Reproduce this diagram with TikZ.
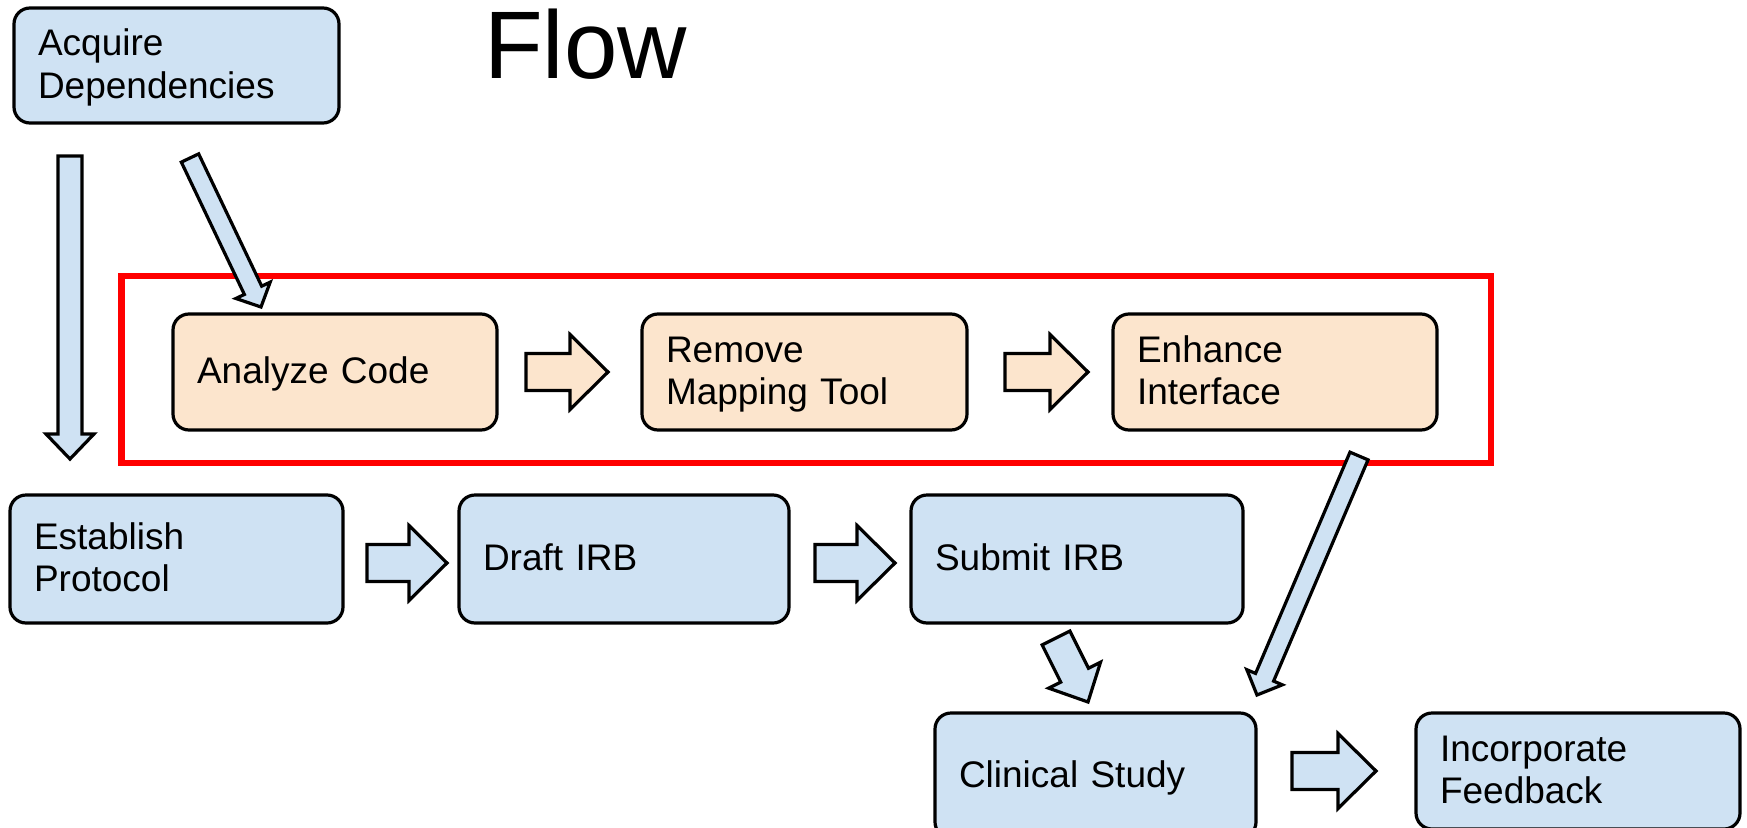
\documentclass[tikz,border=0pt]{standalone}
\usepackage{fontspec}
\setmainfont{Liberation Sans}
\usetikzlibrary{calc}
\definecolor{boxblue}{HTML}{CFE2F3}
\definecolor{boxorange}{HTML}{FCE5CD}
\definecolor{framered}{HTML}{FF0000}
\newcommand\lnstrut{\rule[-9pt]{0pt}{41pt}}
\tikzset{
  stepbox/.style={draw=black, line width=3.2pt, rounded corners=16pt, align=left,
    inner xsep=24pt, inner ysep=0pt, font=\fontsize{37}{42.5}\selectfont},
  bluebox/.style={stepbox, fill=boxblue},
  orangebox/.style={stepbox, fill=boxorange},
  bluearrow/.style={draw=black, line width=3.2pt, fill=boxblue, line join=miter},
  orangearrow/.style={draw=black, line width=3.2pt, fill=boxorange, line join=miter},
  redframe/.style={draw=framered, line width=6.5pt, line join=miter}
}
\newcommand\blockarrow[6]{%
  \coordinate (bah) at ($(#3)!#6!(#2)$);
  \draw[#1] ($(#2)!#4!90:(#3)$) -- ($(bah)!#4!90:(#3)$) -- ($(bah)!#5!90:(#3)$) -- (#3)
    -- ($(bah)!#5!-90:(#3)$) -- ($(bah)!#4!-90:(#3)$) -- ($(#2)!#4!-90:(#3)$) -- cycle;
}
\begin{document}
\begin{tikzpicture}[x=1pt, y=-1pt]
\clip (0,0) rectangle (1747,827);
\fill[white] (0,0) rectangle (1747,827);

% title
\node[anchor=base west, inner sep=0pt, font=\fontsize{96}{100}\selectfont] (title) at (484,78) {Flow};

% red frame
\draw[redframe] (121.5,276) rectangle (1491,463);

% boxes
\node[bluebox, text width=277pt, minimum width=325pt, minimum height=115pt] (acq) at (176.5,65.5) {\lnstrut Acquire\\\lnstrut Dependencies};
\node[orangebox, text width=276pt, minimum width=324pt, minimum height=116pt] (analyze) at (335,372) {\lnstrut Analyze Code};
\node[orangebox, text width=277pt, minimum width=325pt, minimum height=116pt] (remove) at (804.5,372) {\lnstrut Remove\\\lnstrut Mapping Tool};
\node[orangebox, text width=276pt, minimum width=324pt, minimum height=116pt] (enhance) at (1275,372) {\lnstrut Enhance\\\lnstrut Interface};
\node[bluebox, text width=285pt, minimum width=333pt, minimum height=128pt] (establish) at (176.5,559) {\lnstrut Establish\\\lnstrut Protocol};
\node[bluebox, text width=282pt, minimum width=330pt, minimum height=128pt] (draft) at (624,559) {\lnstrut Draft IRB};
\node[bluebox, text width=284pt, minimum width=332pt, minimum height=128pt] (submit) at (1077,559) {\lnstrut Submit IRB};
\node[bluebox, text width=273pt, minimum width=321pt, minimum height=125pt] (clinical) at (1095.5,775.5) {\lnstrut Clinical Study};
\node[bluebox, text width=276pt, minimum width=324pt, minimum height=116pt] (incorporate) at (1578,771) {\lnstrut Incorporate\\\lnstrut Feedback};

% connector end points
\coordinate (v1s) at (70,156);   \coordinate (v1e) at (70,459);
\coordinate (d1s) at (190,158);  \coordinate (d1e) at (261,307);
\coordinate (h1s) at (526,372);  \coordinate (h1e) at (608,372);
\coordinate (h2s) at (1005,372); \coordinate (h2e) at (1088,372);
\coordinate (b1s) at (367,563);  \coordinate (b1e) at (447,563);
\coordinate (b2s) at (815,563);  \coordinate (b2e) at (895,563);
\coordinate (s1s) at (1056,638); \coordinate (s1e) at (1088,702);
\coordinate (e1s) at (1359,456); \coordinate (e1e) at (1257,695);
\coordinate (c1s) at (1292,771); \coordinate (c1e) at (1376,771);

% block arrows
\blockarrow{bluearrow}{v1s}{v1e}{12pt}{24pt}{25pt}
\blockarrow{bluearrow}{d1s}{d1e}{9.6pt}{19pt}{18.5pt}
\blockarrow{orangearrow}{h1s}{h1e}{18.5pt}{37.5pt}{38pt}
\blockarrow{orangearrow}{h2s}{h2e}{18.5pt}{37.5pt}{38pt}
\blockarrow{bluearrow}{b1s}{b1e}{18.5pt}{37.5pt}{38pt}
\blockarrow{bluearrow}{b2s}{b2e}{18.5pt}{37.5pt}{38pt}
\blockarrow{bluearrow}{s1s}{s1e}{15.5pt}{29pt}{30pt}
\blockarrow{bluearrow}{e1s}{e1e}{9.8pt}{19.3pt}{19.3pt}
\blockarrow{bluearrow}{c1s}{c1e}{18.5pt}{37.5pt}{38pt}
\end{tikzpicture}
\end{document}
